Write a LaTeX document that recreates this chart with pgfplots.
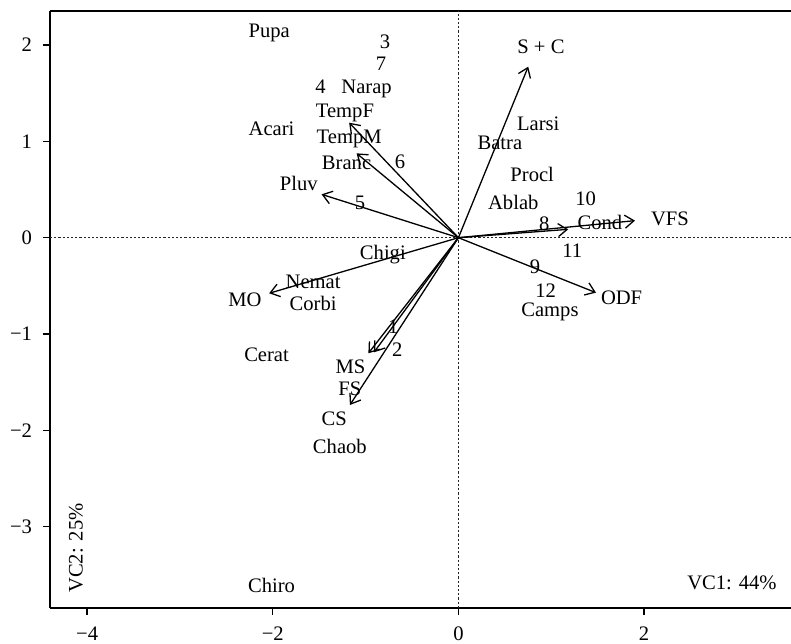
\documentclass[border=0pt]{standalone}
\usepackage{fontspec}
\setmainfont{Liberation Serif}
\usepackage{pgfplots}
\pgfplotsset{compat=1.18}
\usetikzlibrary{arrows.meta}
\begin{document}
\begin{tikzpicture}
\begin{axis}[
  name=ax, at={(0,0)}, anchor=south west,
  scale only axis, width=370.5bp, height=298.5bp,
  xmin=-4.40, xmax=3.583, ymin=-3.845, ymax=2.354,
  axis x line*=bottom, axis y line*=left,
  axis line style={-, line width=0.7bp},
  tick align=outside, major tick length=3.5bp,
  tick style={line width=0.7bp, black},
  xtick={-4,-2,0,2}, xticklabels={−4,−2,0,2},
  ytick={-3,-2,-1,0,1,2}, yticklabels={−3,−2,−1,0,1,2},
  ticklabel style={font=\fontsize{10.3bp}{12bp}\selectfont},
  xticklabel style={yshift=-2.5bp},
  yticklabel style={xshift=-2bp},
  clip=false,
]
\draw[line width=0.7bp] (rel axis cs:0,1) -- (rel axis cs:1,1);
% zero lines
\addplot[black!85, line width=0.55bp, dash pattern=on 1.1bp off 1bp] coordinates {(0,-3.845) (0,2.354)};
\addplot[black!85, line width=0.55bp, dash pattern=on 1.1bp off 1bp] coordinates {(-4.40,0) (3.583,0)};
% variable arrows
\pgfplotsset{arr/.style={black, line width=0.65bp, -{Straight Barb[length=4.5bp,width=6.5bp,line width=0.65bp]}}}
\addplot[arr] coordinates {(0,0) (0.752,1.776)};
\addplot[arr] coordinates {(0,0) (-1.177,1.194)};
\addplot[arr] coordinates {(0,0) (-1.097,0.876)};
\addplot[arr] coordinates {(0,0) (-1.474,0.450)};
\addplot[arr] coordinates {(0,0) (-2.039,-0.577)};
\addplot[arr] coordinates {(0,0) (-0.970,-1.200)};
\addplot[arr] coordinates {(0,0) (-0.910,-1.190)};
\addplot[arr] coordinates {(0,0) (-1.169,-1.737)};
\addplot[arr] coordinates {(0,0) (1.183,0.087)};
\addplot[arr] coordinates {(0,0) (1.902,0.177)};
\addplot[arr] coordinates {(0,0) (1.482,-0.571)};
% labels
\addplot[only marks, mark=none, nodes near coords, point meta=explicit symbolic,
  nodes near coords style={anchor=center, inner sep=0pt, font=\fontsize{10.3bp}{12bp}\selectfont, text=black}]
  table[col sep=comma, x=x, y=y, meta=lab] {
x,y,lab
-2.039,2.123,Pupa
-0.792,2.035,3
-0.835,1.811,7
-1.485,1.568,4
-0.989,1.541,Narap
-2.013,1.136,Acari
-0.630,0.789,6
-1.061,0.357,5
-0.814,-0.180,Chigi
-1.565,-0.457,Nemat
-1.565,-0.681,Corbi
-2.067,-1.218,Cerat
-0.703,-0.924,1
-0.659,-1.166,2
-1.277,-2.163,Chaob
-2.013,-3.614,Chiro
0.860,1.188,Larsi
0.447,0.987,Batra
0.795,0.661,Procl
0.591,0.363,Ablab
1.371,0.409,10
0.925,0.149,8
1.227,-0.135,11
0.824,-0.301,9
0.940,-0.550,12
0.986,-0.765,Camps
0.889,1.983,S + C
-1.223,1.298,TempF
-1.177,1.022,TempM
-1.205,0.772,Branc
-1.719,0.565,Pluv
-2.300,-0.647,MO
-1.162,-1.340,MS
-1.169,-1.564,FS
-1.338,-1.876,CS
1.525,0.156,Cond
2.279,0.201,VFS
1.758,-0.619,ODF
};
\node[rotate=90, font=\fontsize{10.3bp}{12bp}\selectfont, inner sep=0pt] at (rel axis cs:0.035,0.1005) {VC2: 25\%};
\node[anchor=east, font=\fontsize{10.3bp}{12bp}\selectfont, inner sep=0pt] at (rel axis cs:0.981,0.042) {VC1: 44\%};
\end{axis}
\pgfresetboundingbox
\path[use as bounding box] (-25bp,-18bp) rectangle (370.5bp,304bp);
\end{tikzpicture}
\end{document}
